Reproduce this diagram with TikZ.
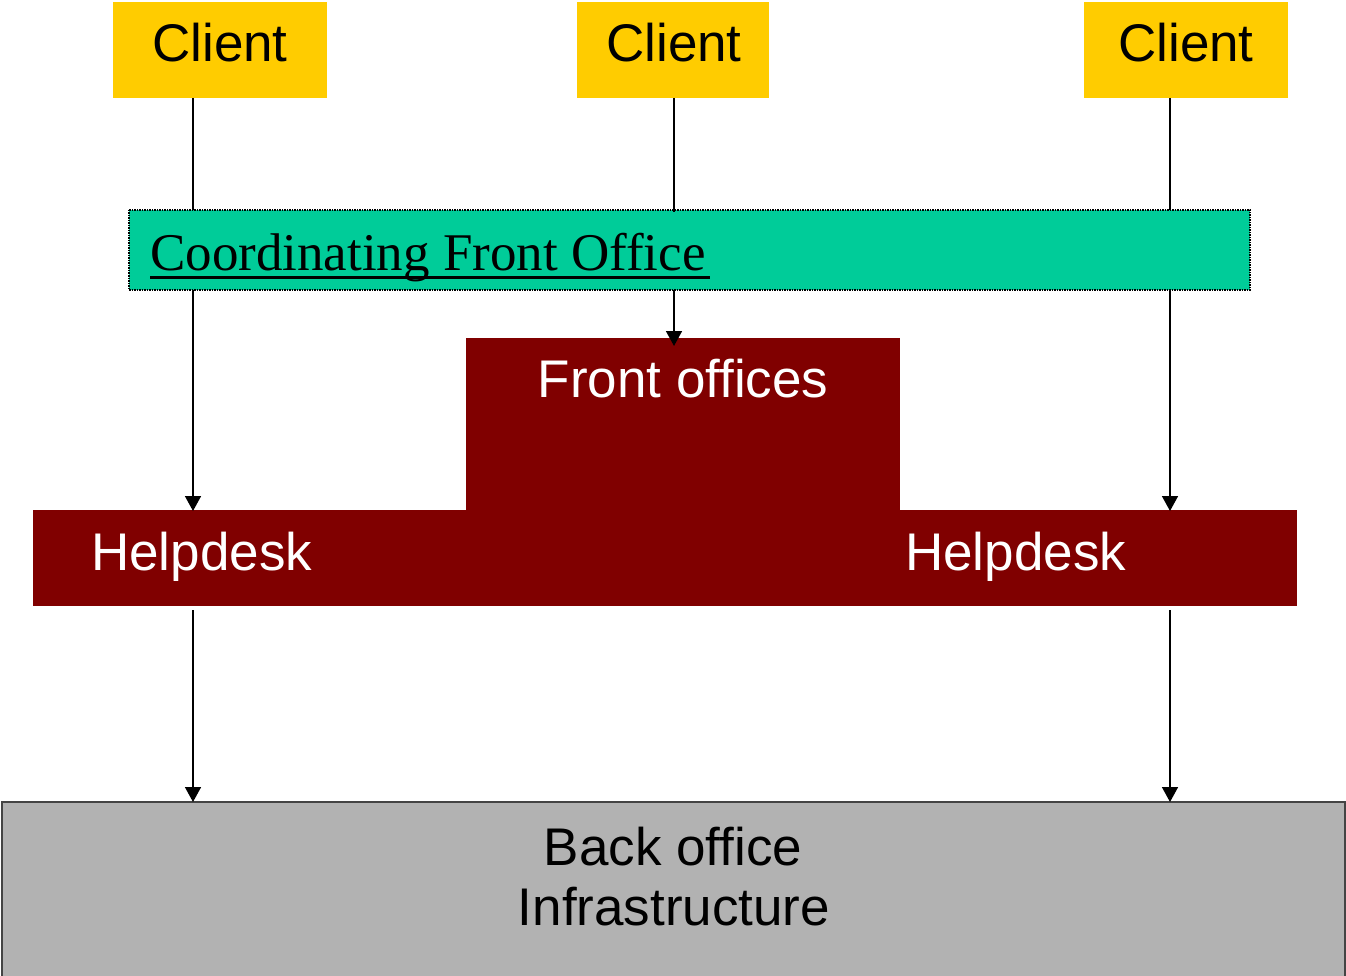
\documentclass[tikz,border=0pt]{standalone}
\usepackage{fontspec}
\setmainfont{Liberation Sans}
\newfontfamily\serifcfo{Liberation Serif}
\usetikzlibrary{arrows.meta}
\definecolor{clientyellow}{HTML}{FFCC00}
\definecolor{cfogreen}{HTML}{00CC99}
\definecolor{darkred}{HTML}{800000}
\definecolor{bogray}{HTML}{B2B2B2}
\definecolor{boborder}{HTML}{444444}
\tikzset{
  big/.style={font=\fontsize{53}{60}\selectfont, inner sep=0pt},
  clientbox/.style={fill=clientyellow, draw=none, inner sep=0pt},
  redbox/.style={fill=darkred, draw=none, inner sep=0pt},
  conn/.style={line width=1.6pt, black},
  arr/.style={conn, -{Triangle[width=16pt,length=15pt]}},
}
\begin{document}
\begin{tikzpicture}[x=1pt,y=-1pt]
\useasboundingbox (0,0) rectangle (1346,976);
% clients
\path[clientbox] (113,2) rectangle (327,98) node[pos=0.5] (c1) {};
\path[clientbox] (577,2) rectangle (769,98) node[pos=0.5] (c2) {};
\path[clientbox] (1084,2) rectangle (1288,98) node[pos=0.5] (c3) {};
\node[big, anchor=base] (t1) at (220,62) {Client};
\node[big, anchor=base] (t2) at (674,62) {Client};
\node[big, anchor=base] (t3) at (1186,62) {Client};
% coordinating front office
\path[fill=cfogreen, draw=black, line width=1.5pt, densely dotted] (129,210) rectangle (1250,290);
\node[big, font=\fontsize{53}{60}\serifcfo, anchor=base west] (cfo) at (150,271) {Coordinating Front Office};
\draw[line width=2.6pt] (cfo.base west) ++(0,6.5) -- ++(560,0);
% front offices + helpdesk
\path[redbox] (466,338) rectangle (900,512);
\path[redbox] (33,510) rectangle (1297,606);
\node[big, white, anchor=base] (fo) at (683,397) {Front offices};
\node[big, white, anchor=base west] (h1) at (91,570) {Helpdesk};
\node[big, white, anchor=base west] (h2) at (905,570) {Helpdesk};
% back office
\path[fill=bogray, draw=boborder, line width=2pt] (2,802) rectangle (1345,1000);
\node[big, anchor=base] (bo1) at (673,865) {Back office};
\node[big, anchor=base] (bo2) at (674,925) {Infrastructure};
% column coordinates
\coordinate (a1) at (193,98);
\coordinate (a2) at (193,210);
\coordinate (a3) at (193,290);
\coordinate (a4) at (193,511);
\coordinate (a5) at (193,610);
\coordinate (a6) at (193,802);
\coordinate (b1) at (674,98);
\coordinate (b2) at (674,212);
\coordinate (b3) at (674,290);
\coordinate (b4) at (674,346);
\coordinate (d1) at (1170,98);
\coordinate (d2) at (1170,210);
\coordinate (d3) at (1170,290);
\coordinate (d4) at (1170,511);
\coordinate (d5) at (1170,610);
\coordinate (d6) at (1170,802);
\draw[conn] (a1) -- (a2);
\draw[arr] (a3) -- (a4);
\draw[arr] (a5) -- (a6);
\draw[conn] (b1) -- (b2);
\draw[arr] (b3) -- (b4);
\draw[conn] (d1) -- (d2);
\draw[arr] (d3) -- (d4);
\draw[arr] (d5) -- (d6);
\end{tikzpicture}
\end{document}
